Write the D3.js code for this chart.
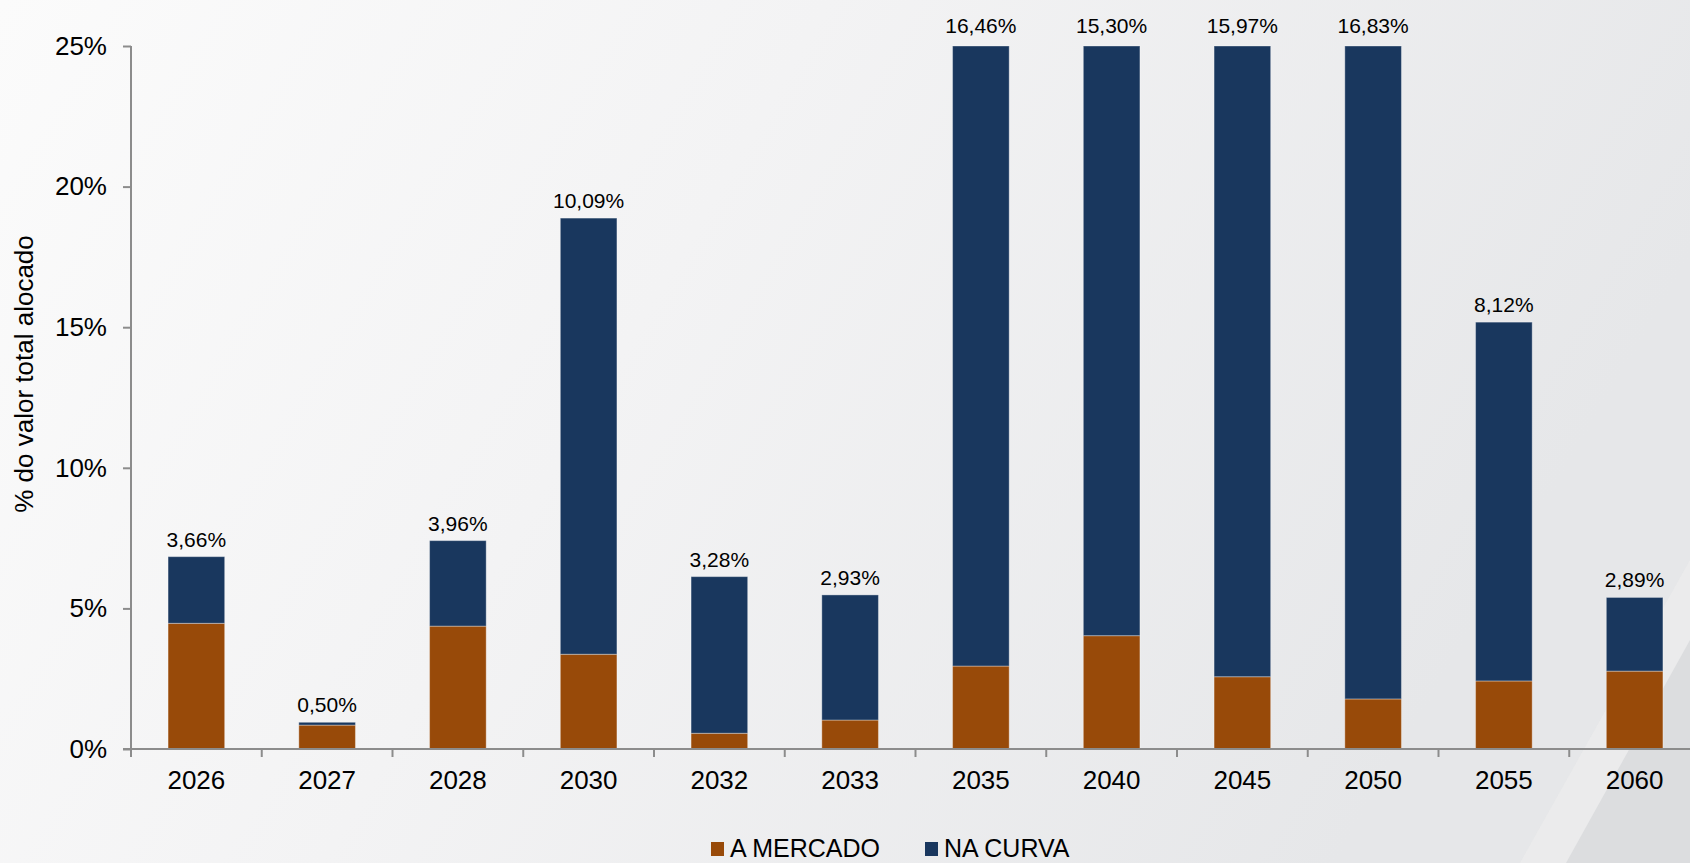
<!DOCTYPE html>
<html>
<head>
<meta charset="utf-8">
<script src="https://cdn.jsdelivr.net/npm/d3@7"></script>
<style>
  html, body { margin: 0; padding: 0; overflow: hidden; }
  text { font-family: "Liberation Sans", Arial, sans-serif; fill: #000; }
</style>
</head>
<body>
<svg id="chart" width="1690" height="863"></svg>
<script>
const categories = ["2026","2027","2028","2030","2032","2033","2035","2040","2045","2050","2055","2060"];
const aMercado   = [4.47, 0.85, 4.37, 3.37, 0.56, 1.03, 2.95, 4.03, 2.57, 1.78, 2.42, 2.77];
const naCurva    = [2.37, 0.10, 3.04, 15.51, 5.57, 4.45, 27.85, 24.6, 27.3, 29.7, 12.76, 2.62];
const valueLabels = ["3,66%","0,50%","3,96%","10,09%","3,28%","2,93%","16,46%","15,30%","15,97%","16,83%","8,12%","2,89%"];
const yTicks = [0, 5, 10, 15, 20, 25];
const seriesNames = ["A MERCADO", "NA CURVA"];
const colors = ["#984a09", "#19375e"];

const W = 1690, H = 863;
const svg = d3.select("#chart");

// background
const defs = svg.append("defs");
const g1 = defs.append("linearGradient").attr("id","bg").attr("x1","0").attr("y1","0").attr("x2","1").attr("y2","0.3");
g1.append("stop").attr("offset","0").attr("stop-color","#fbfbfb");
g1.append("stop").attr("offset","0.45").attr("stop-color","#f3f3f4");
g1.append("stop").attr("offset","1").attr("stop-color","#e6e7e9");
svg.append("rect").attr("width",W).attr("height",H).attr("fill","url(#bg)");
svg.append("polygon").attr("points","1690,560 1690,863 1520,863").attr("fill","#eceded").attr("opacity",0.7);
svg.append("polygon").attr("points","1690,640 1690,863 1566,863").attr("fill","#dcdddf");

const x0 = 131, xEnd = 1700, yBase = 749, yTop = 46;
const x = d3.scaleBand().domain(categories).range([x0, xEnd]).paddingInner(0.567).paddingOuter(0.2835);
const y = d3.scaleLinear().domain([0, 25]).range([yBase, yTop]).clamp(true);

const data = categories.map((c, i) => ({cat: c, a: aMercado[i], n: naCurva[i], label: valueLabels[i]}));
const stack = d3.stack().keys(["a","n"])(data);

const gBars = svg.append("g");
stack.forEach((layer, li) => {
  gBars.selectAll(null).data(layer).enter().append("rect")
    .attr("x", d => x(d.data.cat))
    .attr("width", x.bandwidth())
    .attr("y", d => y(d[1]))
    .attr("height", d => y(d[0]) - y(d[1]))
    .attr("fill", colors[li])
    .attr("stroke", "rgba(255,255,255,0.35)")
    .attr("stroke-width", 1);
});

// y axis
const yAxis = svg.append("g").attr("transform", `translate(${x0},0)`)
  .call(d3.axisLeft(y).tickValues(yTicks).tickFormat(d => d + "%").tickSize(8).tickPadding(16));
yAxis.select(".domain").attr("stroke","#8c8c8c").attr("stroke-width",2).attr("d", `M0,${yTop}V${yBase}`);
yAxis.selectAll(".tick line").attr("stroke","#8c8c8c").attr("stroke-width",2);
yAxis.selectAll(".tick text").attr("font-size","26px").attr("fill","#000").style("font-family","'Liberation Sans', Arial, sans-serif");

// x axis
const xAxis = svg.append("g").attr("transform", `translate(0,${yBase})`)
  .call(d3.axisBottom(x).tickSize(0).tickPadding(22));
xAxis.select(".domain").attr("stroke","#8c8c8c").attr("stroke-width",2).attr("d", `M${x0 - 8},0H${W}`);
xAxis.selectAll(".tick text").attr("font-size","26px").attr("fill","#000").style("font-family","'Liberation Sans', Arial, sans-serif");
// category boundary ticks
const step = x.step();
svg.append("g").selectAll(null).data(categories).enter().append("line")
  .attr("x1", d => x(d) + x.bandwidth() / 2 - step / 2)
  .attr("x2", d => x(d) + x.bandwidth() / 2 - step / 2)
  .attr("y1", yBase).attr("y2", yBase + 8)
  .attr("stroke","#8c8c8c").attr("stroke-width",2);

// value labels
svg.append("g").selectAll(null).data(data).enter().append("text")
  .attr("x", d => x(d.cat) + x.bandwidth() / 2)
  .attr("y", d => (d.a + d.n) > 25 ? y(25) - 13 : y(d.a + d.n) - 10)
  .attr("text-anchor","middle")
  .attr("font-size","21px")
  .text(d => d.label);

// y title
svg.append("text")
  .attr("transform", "translate(33,374) rotate(-90)")
  .attr("text-anchor","middle")
  .attr("font-size","26px")
  .text("% do valor total alocado");

// legend
const legend = svg.append("g");
const legendItems = [{x: 711}, {x: 925}];
seriesNames.forEach((name, i) => {
  const gx = legendItems[i].x;
  legend.append("rect").attr("x", gx).attr("y", 842).attr("width", 13).attr("height", 14).attr("fill", colors[i]);
  legend.append("text").attr("x", gx + 19).attr("y", 857).attr("font-size","25px").text(name);
});
</script>
</body>
</html>
